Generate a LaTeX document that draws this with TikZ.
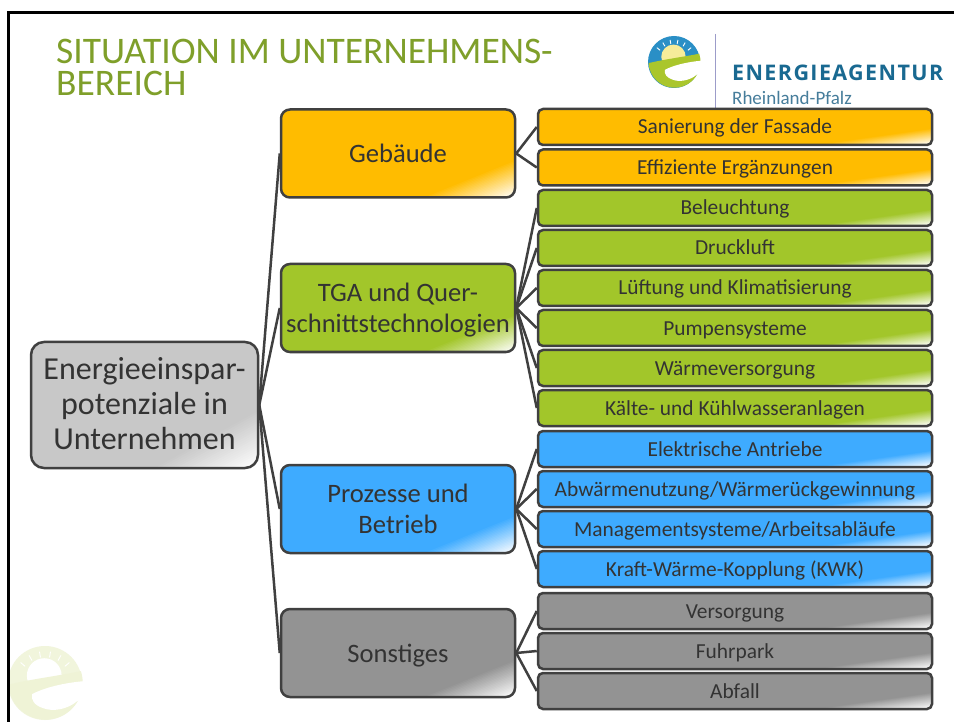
\documentclass[tikz,border=0pt]{standalone}
\usepackage{fontspec}
\setmainfont{Carlito}
\newfontfamily\logofont[LetterSpace=6.5]{Open Sans}
\definecolor{orangeb}{HTML}{FFBC00}
\definecolor{greenb}{HTML}{A2C62A}
\definecolor{blueb}{HTML}{3EABFF}
\definecolor{greyb}{HTML}{939393}
\definecolor{lightb}{HTML}{C8C8C8}
\definecolor{edgec}{HTML}{404040}
\definecolor{txt}{HTML}{333333}
\definecolor{titlec}{HTML}{7F9F2A}
\definecolor{logoblue}{HTML}{2A8FC6}
\definecolor{logosun}{HTML}{F6EC9A}
\definecolor{logogreen}{HTML}{AAC62C}
\definecolor{wmcap}{HTML}{F1F5DC}
\definecolor{wmband}{HTML}{EFF3D6}
\tikzset{
  x=1pt,y=-1pt,
  box/.style={draw=edgec,line width=2.5pt,rounded corners=5pt,text=txt,align=center,inner sep=0pt},
  rootbox/.style={box,rounded corners=13pt,minimum width=227pt,minimum height=126pt,font=\fontsize{32}{35}\selectfont},
  midbox/.style={box,rounded corners=9pt,minimum width=234pt,minimum height=88pt,font=\fontsize{26.6}{31}\selectfont},
  leafbox/.style={box,minimum width=394pt,minimum height=36pt,font=\fontsize{21.4}{25}\selectfont,text height=19pt,text depth=5pt},
  link/.style={draw=edgec,line width=2.5pt},
}
% background with corner sheen: cx, cy, w, h, radius, angle, depth, colour
\newcommand{\sheen}[8]{%
\begin{scope}
  \clip[rounded corners=#5pt] ({#1-#3/2},{#2-#4/2}) rectangle ({#1+#3/2},{#2+#4/2});
  \fill[#8] ({#1-#3/2},{#2-#4/2}) rectangle ({#1+#3/2},{#2+#4/2});
  \begin{scope}[shift={({#1+#3/2},{#2+#4/2})},rotate=#6]
    \foreach \i in {1,...,24}{
      \pgfmathsetmacro{\pct}{100-\i*100/24}
      \pgfmathsetlengthmacro{\dd}{#7pt*(1-(\i-1)/24)}
      \fill[color=#8!\pct!white] (-800pt,-60pt) rectangle (800pt,\dd);
    }
  \end{scope}
\end{scope}}
\newcommand{\leafnode}[4]{\sheen{735}{#2}{394}{36}{5}{8}{16}{#3}\node[leafbox] (#1) at (735,#2) {#4};}
\newcommand{\midnode}[4]{\sheen{398}{#2}{234}{88}{9}{22}{34}{#3}\node[midbox] (#1) at (398,#2) {#4};}
\newcommand{\midtop}{\rule{0pt}{27.5pt}}
\newcommand{\logomark}[7]{%
% #1 cx, #2 cy, #3 r, #4 cap, #5 sun, #6 band, #7 ticks
\begin{scope}[shift={(#1,#2)},x=#3pt,y=#3pt]
  \fill[#4] (0,0) circle[radius=1];
  \fill[#5] (-.02,.2) circle[radius=.47];
  \foreach \a in {40,60,...,140} \draw[#7,line width=.9pt] (\a:.7) -- (\a:.86);
  \fill[#6] (-.96,-.04) .. controls (-.4,.1) and (.4,.2) .. (.97,.32)
     arc[start angle=18,end angle=-178,radius=1] -- cycle;
  \fill[white] (-.35,-.3) .. controls (0,-.12) and (.5,0) .. (1.05,.05) -- (1.05,-.42) -- (.87,-.49)
     .. controls (.6,-.72) and (.2,-.78) .. (-.05,-.68)
     .. controls (-.3,-.6) and (-.38,-.45) .. (-.35,-.3) -- cycle;
\end{scope}}
\begin{document}
\begin{tikzpicture}
\useasboundingbox (0,0) rectangle (954,722);
\fill[white] (0,0) rectangle (954,722);
% watermark
\begin{scope}
  \clip (9,14) rectangle (954,722);
  \logomark{45}{683}{37}{wmcap}{white}{wmband}{white}
\end{scope}
% frame
\draw[black,line width=2.6pt] (8.5,722) -- (8.5,12.5) -- (954,12.5);
% title
\node[anchor=west,text=titlec,font=\fontsize{37.5}{32}\selectfont,align=left,inner sep=0pt] (title) at (56,67) {SITUATION IM UNTERNEHMENS-\\BEREICH};
% logo
\logomark{674}{62}{26}{logoblue}{logosun}{logogreen}{white}
\coordinate (lt) at (715.5,34); \coordinate (lb) at (715.5,108);
\draw[color=blue!30!gray!60,line width=1pt] (lt) -- (lb);
\node[anchor=west,inner sep=0pt,text={rgb,255:red,25;green,105;blue,145},font=\logofont\bfseries\fontsize{21.5}{21.5}\selectfont] (ea) at (732,73) {ENERGIEAGENTUR};
\node[anchor=west,inner sep=0pt,text={rgb,255:red,70;green,125;blue,155},font=\fontsize{19}{20}\selectfont] (rp) at (732,98) {Rheinland-Pfalz};
% nodes
\sheen{144.5}{405}{227}{126}{13}{29}{50}{lightb}
\node[rootbox] (root) at (144.5,405) {\rule{0pt}{29pt}Energieeinspar-\\potenziale in\\Unternehmen\strut};
\midnode{m1}{153.5}{orangeb}{\midtop Gebäude\strut}
\midnode{m2}{308}{greenb}{\midtop TGA und Quer-\\schnittstechnologien\strut}
\midnode{m3}{509}{blueb}{\midtop Prozesse und\\Betrieb\strut}
\midnode{m4}{653}{greyb}{\midtop Sonstiges\strut}
\leafnode{a1}{127}{orangeb}{Sanierung der Fassade}
\leafnode{a2}{167.5}{orangeb}{Effiziente Ergänzungen}
\leafnode{b1}{208}{greenb}{Beleuchtung}
\leafnode{b2}{248}{greenb}{Druckluft}
\leafnode{b3}{288}{greenb}{Lüftung und Klimatisierung}
\leafnode{b4}{328}{greenb}{Pumpensysteme}
\leafnode{b5}{368}{greenb}{Wärmeversorgung}
\leafnode{b6}{408}{greenb}{Kälte- und Kühlwasseranlagen}
\leafnode{c1}{449}{blueb}{Elektrische Antriebe}
\leafnode{c2}{489}{blueb}{Abwärmenutzung/Wärmerückgewinnung}
\leafnode{c3}{529}{blueb}{Managementsysteme/Arbeitsabläufe}
\leafnode{c4}{569}{blueb}{Kraft-Wärme-Kopplung (KWK)}
\leafnode{d1}{611}{greyb}{Versorgung}
\leafnode{d2}{651}{greyb}{Fuhrpark}
\leafnode{d3}{691}{greyb}{Abfall}
% connectors
\foreach \m in {m1,m2,m3,m4} \draw[link] (root.east) -- (\m.west);
\foreach \l in {a1,a2} \draw[link] (m1.east) -- (\l.west);
\foreach \l in {b1,b2,b3,b4,b5,b6} \draw[link] (m2.east) -- (\l.west);
\foreach \l in {c1,c2,c3,c4} \draw[link] (m3.east) -- (\l.west);
\foreach \l in {d1,d2,d3} \draw[link] (m4.east) -- (\l.west);
\end{tikzpicture}
\end{document}
